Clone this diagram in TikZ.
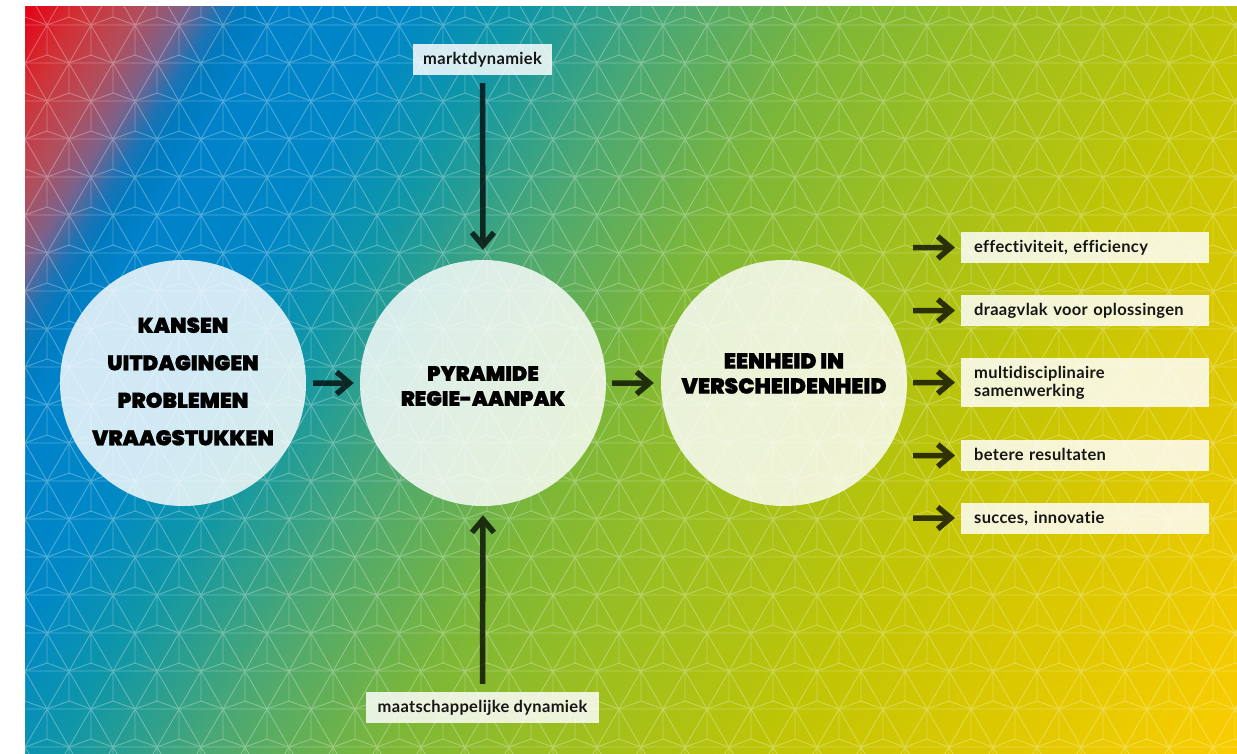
\documentclass[tikz,border=0pt]{standalone}
\usepackage{fontspec}
\usetikzlibrary{arrows.meta}
\newfontfamily\labelfont{Lato}[Ligatures=NoCommon, LetterSpace=2]
\newfontfamily\heavyfont{Poppins Black}[FakeBold=1]
\definecolor{g0}{RGB}{230,0,20}
\definecolor{g1}{RGB}{208,50,55}
\definecolor{g2}{RGB}{178,78,92}
\definecolor{g3}{RGB}{125,98,138}
\definecolor{g4}{RGB}{30,115,180}
\definecolor{g5}{RGB}{0,122,190}
\definecolor{g6}{RGB}{0,130,202}
\definecolor{g7}{RGB}{0,136,198}
\definecolor{g8}{RGB}{15,150,168}
\definecolor{g9}{RGB}{75,168,115}
\definecolor{g10}{RGB}{125,183,55}
\definecolor{g11}{RGB}{152,190,35}
\definecolor{g12}{RGB}{192,197,5}
\definecolor{g13}{RGB}{220,200,0}
\definecolor{g14}{RGB}{250,205,0}
\definecolor{txt}{RGB}{22,22,22}
\pgfdeclarehorizontalshading{bgshade}{1800pt}{color(0pt)=(g0); color(188pt)=(g0); color(238pt)=(g1); color(288pt)=(g2); color(325pt)=(g3); color(355pt)=(g4); color(375pt)=(g5); color(410pt)=(g6); color(518pt)=(g7); color(608pt)=(g8); color(738pt)=(g9); color(888pt)=(g10); color(1008pt)=(g11); color(1218pt)=(g12); color(1388pt)=(g13); color(1612pt)=(g14); color(1800pt)=(g14)}
\tikzset{
  patline/.style={draw=white, line width=0.9pt},
  circ/.style={circle, minimum size=246pt, inner sep=0pt, fill=white, fill opacity=0.82, draw=none},
  ctext/.style={align=center, inner sep=0pt, text=black},
  lbox/.style={fill=white, fill opacity=0.83, text opacity=1, inner ysep=0pt, inner xsep=0pt, text=txt, font=\labelfont\bfseries\fontsize{16.5}{18}\selectfont},
  oneline/.style={text height=13pt, text depth=3pt},
  rbox/.style={lbox, anchor=west, inner xsep=13pt, text width=222pt, align=left, minimum height=31pt},
  arr/.style={line width=5.5pt, -{Straight Barb[length=13pt, width=22pt]}}
}
\begin{document}
\begin{tikzpicture}[x=1pt, y=-1pt]
\useasboundingbox (0,0) rectangle (1237,753);
% background gradient
\begin{scope}
  \clip (25,6) rectangle (1237,753);
  \node[inner sep=0pt, outer sep=0pt, rotate=-32] (bg) at (631,379.5) {\pgfuseshading{bgshade}};
  \begin{scope}[transparency group, opacity=0.3]
    \foreach \n in {0,...,19} {
      \draw[patline] (25,{25+38*\n}) -- (1237,{25+38*\n});
    }
    \foreach \n in {-1,...,19} {
      \pgfmathsetmacro{\ay}{25+38*\n}
      \pgfmathsetmacro{\off}{47+22*mod(\n+2,2)}
      \foreach \k in {-2,...,28} {
        \pgfmathsetmacro{\ax}{\off+44*\k}
        \draw[patline] (\ax-22,\ay+38) -- (\ax,\ay) -- (\ax+22,\ay+38)
                       (\ax,\ay) -- (\ax,\ay+30)
                       (\ax-22,\ay+38) -- (\ax,\ay+30) -- (\ax+22,\ay+38);
      }
    }
  \end{scope}
\end{scope}
% circles
\node[circ] (c1) at (183,383) {};
\node[circ] (c2) at (483,383) {};
\node[circ] (c3) at (784,383) {};
\node[ctext, font=\heavyfont\fontsize{21.3}{37.5}\selectfont] (t1) at (183,381.5) {KANSEN\\UITDAGINGEN\\PROBLEMEN\\VRAAGSTUKKEN};
\node[ctext, font=\heavyfont\fontsize{20.7}{25}\selectfont] (t2) at (483,386) {PYRAMIDE\\REGIE-AANPAK};
\node[ctext, font=\heavyfont\fontsize{21.7}{25}\selectfont] (t3) at (784,373.5) {EENHEID IN\\VERSCHEIDENHEID};
% label boxes
\node[lbox, oneline, minimum width=139pt, minimum height=31pt] (mk) at (482.5,59.5) {marktdynamiek};
\node[lbox, oneline, minimum width=233pt, minimum height=31pt] (md) at (482.5,707.5) {maatschappelijke dynamiek};
\node[rbox, oneline] (b1) at (961,247.5) {effectiviteit, efficiency};
\node[rbox, oneline] (b2) at (961,310.5) {draagvlak voor oplossingen};
\node[rbox, minimum height=49pt] (b3) at (961,382.5) {multidisciplinaire\\samenwerking};
\node[rbox, oneline] (b4) at (961,455.5) {betere resultaten};
\node[rbox, oneline] (b5) at (961,518) {succes, innovatie};
\coordinate (s1) at (913,247.5);
\coordinate (s2) at (913,310.5);
\coordinate (s3) at (913,382.5);
\coordinate (s4) at (913,455.5);
\coordinate (s5) at (913,518);
% arrows
\begin{scope}[transparency group, opacity=0.75]
  \draw[arr, shorten <=7pt, shorten >=6pt] (c1.east) -- (c2.west);
  \draw[arr, shorten <=6pt, shorten >=7pt] (c2.east) -- (c3.west);
  \draw[arr, shorten <=8pt, shorten >=10pt] (mk.south) -- (c2.north);
  \draw[arr, shorten <=8pt, shorten >=9pt] (md.north) -- (c2.south);
  \draw[arr, shorten >=6pt] (s1) -- (b1.west);
  \draw[arr, shorten >=6pt] (s2) -- (b2.west);
  \draw[arr, shorten >=6pt] (s3) -- (b3.west);
  \draw[arr, shorten >=6pt] (s4) -- (b4.west);
  \draw[arr, shorten >=6pt] (s5) -- (b5.west);
\end{scope}
\end{tikzpicture}
\end{document}
